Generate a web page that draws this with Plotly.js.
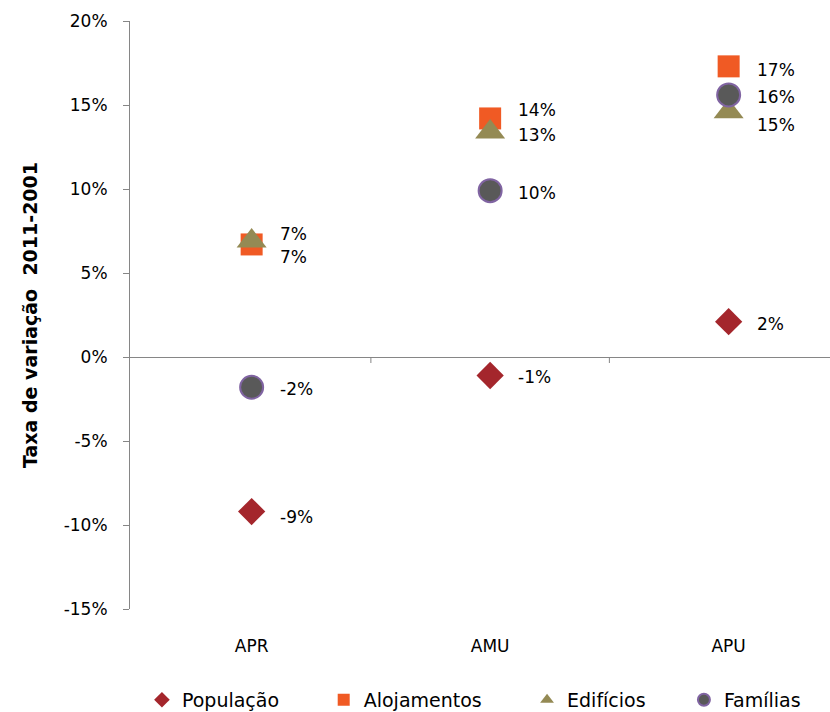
<!DOCTYPE html>
<html>
<head>
<meta charset="utf-8">
<script src="https://cdn.plot.ly/plotly-3.0.1.min.js"></script>
<style>html,body{margin:0;padding:0;background:#fff;}#chart{width:830px;height:712px;}</style>
</head>
<body>
<div id="chart"></div>
<script>
// Data (taxa de variação 2011-2001, %)
var categories = ['APR', 'AMU', 'APU'];
var populacao = [-9.2, -1.1, 2.1];
var alojamentos = [6.7, 14.2, 17.3];
var edificios = [6.9, 13.4, 14.6];
var familias = [-1.8, 9.9, 15.6];
var seriesNames = ['População', 'Alojamentos', 'Edifícios', 'Famílias'];
var yTickVals = [-15, -10, -5, 0, 5, 10, 15, 20];
var yTickText = yTickVals.map(function (v) { return v + '%'; });

// label vertical offsets (px, up positive) to avoid overlaps
var labelShift = [
  [-5, -2, -2],
  [10, 8, -4],
  [-16, -3, -13],
  [-2, -2, -2]
];
// legend entry positions (fraction of page width)
var legendX = [0.171, 0.390, 0.635, 0.824];
var legendIds = ['legend', 'legend2', 'legend3', 'legend4'];

var FONT = 'DejaVu Sans, Noto Sans, sans-serif';
var seriesVals = [populacao, alojamentos, edificios, familias];
var markers = [
  {symbol: 'diamond', size: 21, color: '#A4262C'},
  {symbol: 'square', size: 22, color: '#F05A24'},
  {symbol: 'triangle-up', size: 26, color: '#948A54'},
  {symbol: 'circle', size: 23, color: '#595959', line: {color: '#8064A2', width: 2}}
];

var traces = seriesVals.map(function (vals, i) {
  return {
    type: 'scatter', mode: 'markers',
    x: categories, y: vals, name: seriesNames[i], legend: legendIds[i],
    marker: markers[i], cliponaxis: false, hoverinfo: 'x+y+name'
  };
});

var annotations = [];
seriesVals.forEach(function (vals, i) {
  vals.forEach(function (v, j) {
    annotations.push({
      x: categories[j], y: v, xref: 'x', yref: 'y',
      text: Math.round(v) + '%', showarrow: false,
      xanchor: 'left', yanchor: 'middle', xshift: 26, yshift: labelShift[i][j],
      font: {family: FONT, size: 17, color: '#000'}
    });
  });
});

var shapes = [0.5, 1.5].map(function (b) {
  return {type: 'line', xref: 'x', yref: 'y', x0: b, x1: b, ysizemode: 'pixel', yanchor: 0, y0: 0, y1: -6,
    line: {color: '#868686', width: 1}};
});

var layout = {
  width: 830, height: 712,
  margin: {l: 130, r: 0, t: 21, b: 103},
  paper_bgcolor: '#fff', plot_bgcolor: '#fff',
  showlegend: true,
  xaxis: {
    type: 'category', range: [-0.51, 2.425], showgrid: false, zeroline: false, showline: false,
    ticks: 'outside', ticklen: 22, tickcolor: 'rgba(0,0,0,0)',
    tickfont: {family: FONT, size: 17, color: '#000'}, fixedrange: true
  },
  yaxis: {
    range: [-15, 20], tickvals: yTickVals, ticktext: yTickText, showgrid: false,
    zeroline: true, zerolinecolor: '#868686', zerolinewidth: 1,
    showline: true, linecolor: '#868686', linewidth: 1,
    ticks: 'outside', ticklen: 6, tickcolor: '#868686', ticklabelstandoff: 12,
    tickfont: {family: FONT, size: 17, color: '#000'},
    title: {text: 'Taxa de variação  2011-2001', font: {family: FONT, size: 19, color: '#000', weight: 'bold'}, standoff: 21},
    automargin: false, fixedrange: true
  },
  annotations: annotations,
  shapes: shapes
};
legendIds.forEach(function (id, i) {
  layout[id] = {orientation: 'h', x: legendX[i], xanchor: 'left', xref: 'container', yref: 'container',
    y: 0.017, yanchor: 'middle', bgcolor: 'rgba(0,0,0,0)',
    font: {family: FONT, size: 19, color: '#000'}, itemsizing: 'constant'};
});

Plotly.newPlot('chart', traces, layout, {displayModeBar: false, staticPlot: true});
</script>
</body>
</html>
